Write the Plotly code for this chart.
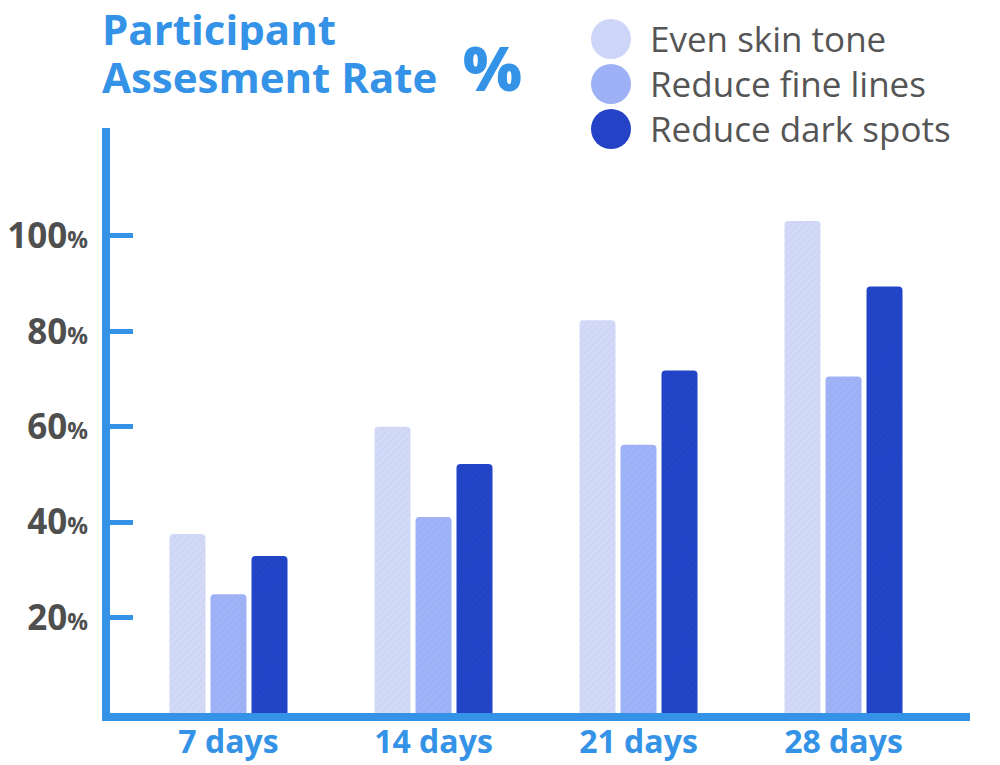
import plotly.graph_objects as go

categories = ["7 days", "14 days", "21 days", "28 days"]
even_skin_tone = [37.5, 60.0, 82.3, 103.1]
reduce_fine_lines = [24.9, 41.1, 56.2, 70.5]
reduce_dark_spots = [32.9, 52.2, 71.8, 89.4]
series_names = ["Even skin tone", "Reduce fine lines", "Reduce dark spots"]
tick_values = [20, 40, 60, 80, 100]
tick_labels = ["20", "40", "60", "80", "100"]

bar_colors = ["#d3daf7", "#a0b3f7", "#2345c8"]
legend_colors = ["#cdd5f8", "#9fb1f6", "#2342c5"]
pattern_fg = ["#b9c4f0", "#8aa0f0", "#1a38b5"]
BLUE = "#3492e7"

# the page body adds an 8px margin; lay out in screen pixels, then offset
OFF = 8
W, H = 1000 - OFF, 765 - OFF
PLOT_L, PLOT_R, PLOT_T, PLOT_B = 110, 970, 128, 713  # screen pixels
ML, MR, MT, MB = PLOT_L - OFF, W - (PLOT_R - OFF), PLOT_T - OFF, H - (PLOT_B - OFF)
PW, PH = PLOT_R - PLOT_L, PLOT_B - PLOT_T


def px(x):
    return (x - PLOT_L) / PW


def py(y):
    return (PLOT_B - y) / PH


fig = go.Figure()
for name, vals, col, fg in zip(series_names,
                               [even_skin_tone, reduce_fine_lines, reduce_dark_spots],
                               bar_colors, pattern_fg):
    fig.add_trace(go.Bar(
        x=categories, y=vals, name=name, showlegend=False,
        marker=dict(color=col, line=dict(width=0),
                    pattern=dict(shape="/", fgcolor=fg, fgopacity=0.35, size=5, solidity=0.25)),
        hoverinfo="skip",
    ))

fig.update_layout(
    width=W, height=H,
    margin=dict(l=ML, r=MR, t=MT, b=MB, pad=0, autoexpand=False),
    paper_bgcolor="white", plot_bgcolor="white",
    barmode="group", bargap=0.4, bargroupgap=0.122, barcornerradius=4,
    font=dict(family="Open Sans"),
)

fig.update_xaxes(
    range=[-0.578, 3.617], showgrid=False, zeroline=False, automargin=False,
    showline=True, linewidth=8, linecolor=BLUE, ticks="",
    tickfont=dict(family="Open Sans", size=32, color=BLUE, weight=700),
    ticklabelstandoff=-6,
)

fig.update_yaxes(
    range=[0, 122.6], showgrid=False, zeroline=False, automargin=False,
    showline=True, linewidth=8, linecolor=BLUE,
    tickmode="array", tickvals=tick_values,
    ticktext=[t + "<span style='font-size:23px'>%</span>" for t in tick_labels],
    ticks="inside", ticklen=23, tickwidth=5, tickcolor=BLUE,
    tickfont=dict(family="Open Sans", size=35, color="#4f4f4f", weight=700),
    ticklabelstandoff=7,
)

# Title
fig.add_annotation(x=px(100), y=py(28), xref="paper", yref="paper", xanchor="left", yanchor="middle",
                   text="Participant", showarrow=False, height=44, valign="middle",
                   font=dict(family="Open Sans", size=42, color=BLUE, weight=700))
fig.add_annotation(x=px(100), y=py(76), xref="paper", yref="paper", xanchor="left", yanchor="middle",
                   text="Assesment Rate", showarrow=False, height=44, valign="middle",
                   font=dict(family="Open Sans", size=42, color=BLUE, weight=700))
fig.add_annotation(x=px(492), y=py(67), xref="paper", yref="paper", xanchor="center", yanchor="middle",
                   text="%", showarrow=False,
                   font=dict(family="Open Sans", size=62, color=BLUE, weight=800))

# Legend
for i, (name, col) in enumerate(zip(series_names, legend_colors)):
    cy = 39 + 45 * i
    fig.add_shape(type="circle", xref="paper", yref="paper",
                  xsizemode="pixel", ysizemode="pixel",
                  xanchor=px(611), yanchor=py(cy),
                  x0=-20, x1=20, y0=-20, y1=20,
                  fillcolor=col, line=dict(width=0))
    fig.add_annotation(x=px(648), y=py(cy - 1), xref="paper", yref="paper",
                       xanchor="left", yanchor="middle", text=name, showarrow=False,
                       font=dict(family="Open Sans", size=35, color="#555555"))

fig.write_html("out.html")
